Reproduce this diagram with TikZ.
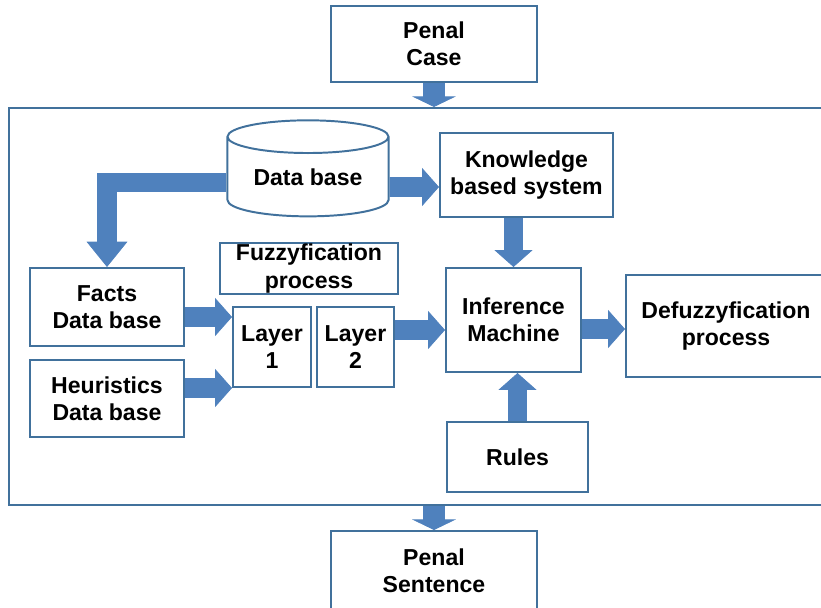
\documentclass[tikz,border=0pt]{standalone}
\usepackage{fontspec}
\setmainfont{Liberation Sans}
\usetikzlibrary{arrows.meta,positioning,calc,shapes.geometric}
\definecolor{boxblue}{RGB}{65,113,156}
\definecolor{arrowblue}{RGB}{79,129,189}

\begin{document}
\begin{tikzpicture}[x=0.025cm, y=-0.025cm,
  every node/.style={font=\fontsize{16.4}{19.5}\selectfont\bfseries, align=center},
  box/.style={rectangle, draw=boxblue, line width=1.4pt, inner sep=0pt},
  fat/.style={draw=arrowblue, line width=14pt, -{Triangle[length=12pt,width=27pt,line width=0.5pt]}},
  fatflat/.style={draw=arrowblue, line width=15pt, -{Triangle[length=7.5pt,width=31pt,line width=0.5pt]}},
  fatbend/.style={draw=arrowblue, line width=14pt, line join=miter, -{Triangle[length=18pt,width=29pt,line width=0.5pt]}}]

\useasboundingbox (0,0) rectangle (821,607);

  % Outer system frame

\node (frame) at (417.5,306.5) [box, minimum width=20.4cm, minimum height=9.925cm] {};

\node (case) at (434,44) [box, minimum width=5.15cm, minimum height=1.9cm] {Penal\\Case};
\node (sentence) at (434,571) [box, minimum width=5.15cm, minimum height=2cm] {Penal\\Sentence};

  % Knowledge side

\node (db) at (308,177) [cylinder, shape border rotate=90, aspect=0.3, draw=boxblue, line width=1.4pt, minimum width=4.025cm, minimum height=2.4cm, inner sep=0pt] {Data base};
\node (kbs) at (526.5,175) [box, minimum width=4.325cm, minimum height=2.1cm] {Knowledge\\based system};

\node (facts) at (107,307) [box, minimum width=3.85cm, minimum height=1.95cm] {Facts\\Data base};
\node (heur) at (107,398.5) [box, minimum width=3.85cm, minimum height=1.925cm] {Heuristics\\Data base};

  % Fuzzyfication layers

\node (fuzzy) at (309,268.5) [box, minimum width=4.45cm, minimum height=1.275cm] {Fuzzyfication\\process};
\node (layer1) at (272,347) [box, minimum width=1.95cm, minimum height=2cm] {Layer\\1};
\node (layer2) at (355.5,347) [box, minimum width=1.925cm, minimum height=2cm] {Layer\\2};

  % Inference and output

\node (inf) at (513.5,320) [box, minimum width=3.375cm, minimum height=2.6cm] {Inference\\Machine};
\node (defuzz) at (726,326) [box, minimum width=5cm, minimum height=2.55cm] {Defuzzyfication\\process};
\node (rules) at (517.5,457) [box, minimum width=3.525cm, minimum height=1.75cm] {Rules};

  % Block arrows

\draw[fatflat] (case.south) -- (case.south |- frame.north);
\draw[fatflat] (frame.south -| sentence.north) -- (sentence.north);

\draw[fatbend] ($(db.west)+(0,5.5)$) -| (facts.north);
\draw[fat] ($(db.east)+(0,10)$) -- ($(kbs.west)+(0,12)$);
\draw[fat] (kbs.south -| inf.north) -- (inf.north);

\draw[fat] ($(facts.east)+(0,10)$) -- ($(layer1.west)+(0,-30)$);
\draw[fat] ($(heur.east)+(0,-10.5)$) -- ($(layer1.west)+(0,41)$);
\draw[fat] ($(layer2.east)+(0,-17)$) -- ($(inf.west)+(0,10)$);

\draw[fat] ($(inf.east)+(0,9)$) -- ($(defuzz.west)+(0,3)$);
\draw[fat] (rules.north) -- (rules.north |- inf.south);

\end{tikzpicture}
\end{document}
